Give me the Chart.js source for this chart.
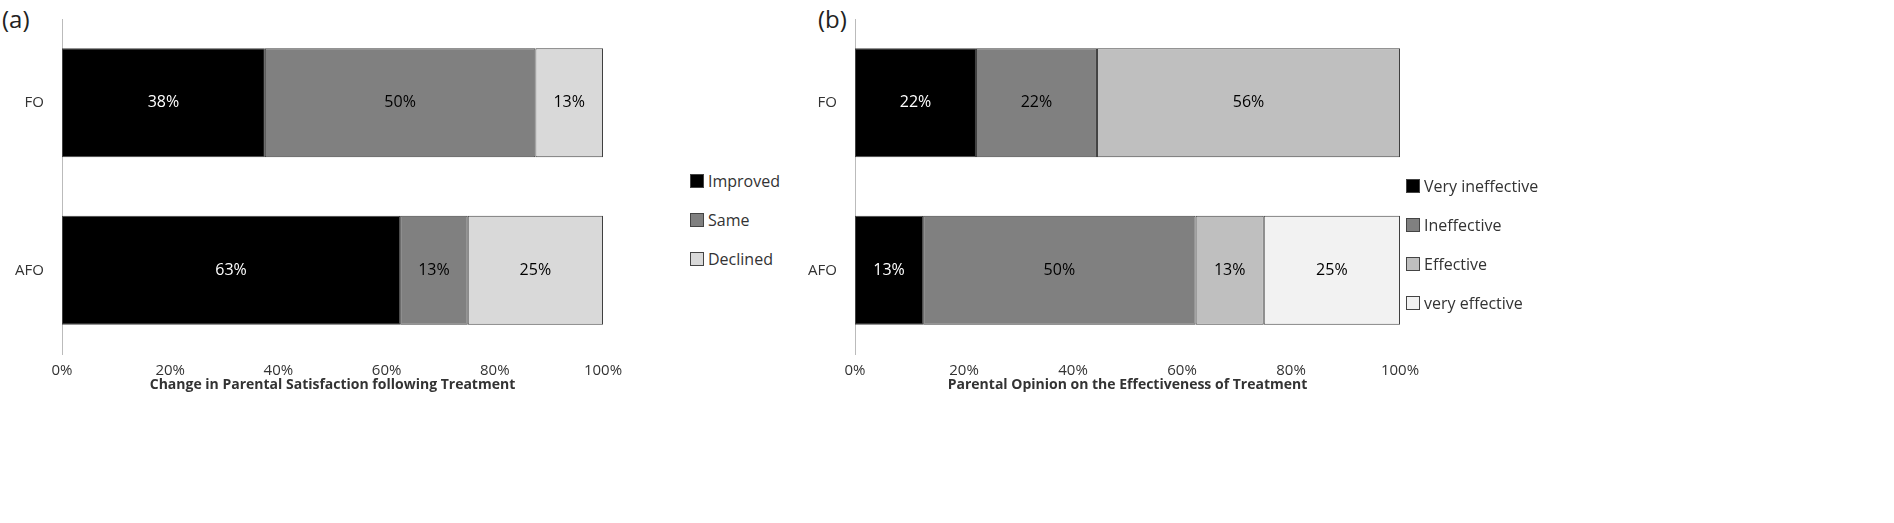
<!DOCTYPE html>
<html><head><meta charset="utf-8">
<script src="https://cdn.jsdelivr.net/npm/chart.js@4"></script>
<style>
body{margin:0;background:#fff;font-family:"Open Sans","Liberation Sans",Arial,sans-serif;width:1894px;height:523px;position:relative;overflow:hidden}
canvas{position:absolute;top:0}
.tag{position:absolute;font-size:24px;color:#222}
.ttl{position:absolute;top:374px;font-size:14px;font-weight:bold;color:#333}
.leg{position:absolute;font-size:16px;color:#333}
.leg div{height:39px;display:flex;align-items:center}
.leg span{display:inline-block;width:12px;height:12px;border:1px solid #444;margin-right:4px}
</style></head><body>
<div class="tag" style="left:2px;top:2px">(a)</div>
<div class="tag" style="left:818px;top:2px">(b)</div>
<canvas id="c1" width="640" height="523" style="left:0;width:640px;height:523px"></canvas>
<canvas id="c2" width="640" height="523" style="left:790px;width:640px;height:523px"></canvas>
<div class="ttl" style="left:62px;width:541px;text-align:center">Change in Parental Satisfaction following Treatment</div>
<div class="ttl" style="left:855px;width:545px;text-align:center">Parental Opinion on the Effectiveness of Treatment</div>
<div class="leg" id="l1" style="left:690px;top:161px"></div>
<div class="leg" id="l2" style="left:1406px;top:166px"></div>
<script>
const groups = ["FO", "AFO"];
const satLabels = ["Improved", "Same", "Declined"];
const satValues = [[37.5, 62.5], [50, 12.5], [12.5, 25]];
const satText = [["38%", "63%"], ["50%", "13%"], ["13%", "25%"]];
const satColors = ["#000000", "#808080", "#d9d9d9"];
const effLabels = ["Very ineffective", "Ineffective", "Effective", "very effective"];
const effValues = [[22.2, 12.5], [22.2, 50], [55.6, 12.5], [0, 25]];
const effText = [["22%", "13%"], ["22%", "50%"], ["56%", "13%"], ["", "25%"]];
const effColors = ["#000000", "#808080", "#bfbfbf", "#f2f2f2"];
const xTicks = ["0%", "20%", "40%", "60%", "80%", "100%"];

const labelPlugin = {
  id: "barText",
  afterDatasetsDraw(chart) {
    const ctx = chart.ctx;
    ctx.save();
    ctx.font = "16px 'Open Sans', 'Liberation Sans', Arial";
    ctx.textAlign = "center";
    ctx.textBaseline = "middle";
    chart.data.datasets.forEach((ds, i) => {
      chart.getDatasetMeta(i).data.forEach((bar, j) => {
        const t = ds.texts[j];
        if (!t) return;
        ctx.fillStyle = ds.backgroundColor === "#000000" ? "#fff" : "#000";
        ctx.fillText(t, (bar.x + bar.base) / 2, bar.y);
      });
    });
    ctx.restore();
  }
};

function makeChart(id, labels, values, texts, colors, yWidth) {
  new Chart(document.getElementById(id), {
    type: "bar",
    data: {
      labels: groups,
      datasets: labels.map((l, i) => ({
        label: l, data: values[i], texts: texts[i],
        backgroundColor: colors[i], borderColor: "#404040", borderWidth: 1,
        borderSkipped: false, barPercentage: 0.65, categoryPercentage: 1
      }))
    },
    options: {
      indexAxis: "y", responsive: false, animation: false,
      layout: { padding: { top: 4, right: 640 - yWidth - (id === "c1" ? 541 : 545) } },
      plugins: { legend: { display: false }, tooltip: { enabled: false } },
      scales: {
        x: {
          stacked: true, min: 0, max: 100,
          grid: { display: false }, border: { display: false },
          ticks: { stepSize: 20, padding: 0, color: "#333", font: { size: 15, family: "Open Sans" },
            callback: (v, i) => xTicks[i] },
          afterFit: s => { s.height = 169; }
        },
        y: {
          stacked: true,
          grid: { display: false }, border: { color: "#bbb" },
          ticks: { color: "#333", font: { size: 15, family: "Open Sans" }, padding: 10 },
          afterFit: s => { s.width = yWidth; }
        }
      }
    },
    plugins: [labelPlugin]
  });
}
makeChart("c1", satLabels, satValues, satText, satColors, 62);
makeChart("c2", effLabels, effValues, effText, effColors, 65);

function legend(id, labels, colors) {
  document.getElementById(id).innerHTML = labels.map((l, i) =>
    `<div><span style="background:${colors[i]}"></span>${l}</div>`).join("");
}
legend("l1", satLabels, satColors);
legend("l2", effLabels, effColors);
</script>
</body></html>
